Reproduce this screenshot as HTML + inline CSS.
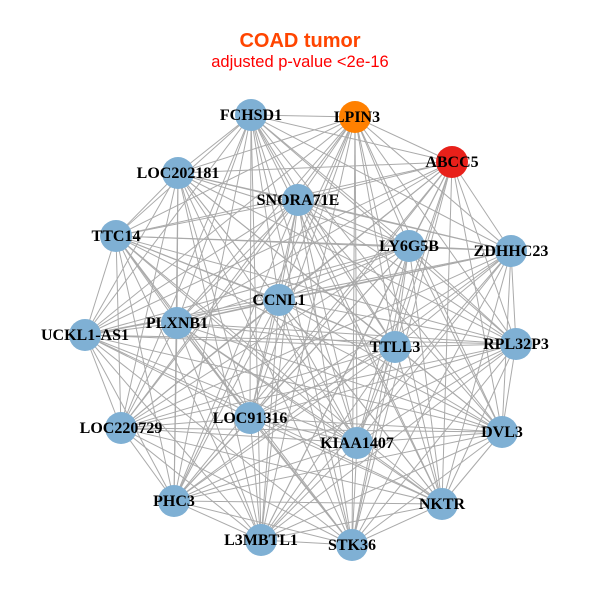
<!DOCTYPE html>
<html><head><meta charset="utf-8"><style>
body{margin:0;background:#fff;}
svg{display:block;}
text.l{font-family:"Liberation Serif",serif;font-weight:bold;font-size:16px;text-anchor:middle;fill:#000;}
</style></head><body>
<svg id="s" width="600" height="600" xmlns="http://www.w3.org/2000/svg">
<rect width="600" height="600" fill="#fff"/>
<g id="e" stroke="#aaaaaa" stroke-width="1"></g>
<g id="n"></g>
<text x="300" y="47" text-anchor="middle" font-family="Liberation Sans,sans-serif" font-weight="bold" font-size="20" fill="#ff4500">COAD tumor</text>
<text x="300" y="67" text-anchor="middle" font-family="Liberation Sans,sans-serif" font-size="16.5" fill="#ff0000">adjusted p-value &lt;2e-16</text>
<g id="t">
<text class="l" x="251" y="120">FCHSD1</text>
<text class="l" x="357" y="122">LPIN3</text>
<text class="l" x="452" y="167">ABCC5</text>
<text class="l" x="178" y="178">LOC202181</text>
<text class="l" x="298" y="205">SNORA71E</text>
<text class="l" x="116" y="241">TTC14</text>
<text class="l" x="409" y="251">LY6G5B</text>
<text class="l" x="511" y="256">ZDHHC23</text>
<text class="l" x="279" y="305">CCNL1</text>
<text class="l" x="177" y="328">PLXNB1</text>
<text class="l" x="85" y="340">UCKL1-AS1</text>
<text class="l" x="395" y="352">TTLL3</text>
<text class="l" x="516" y="349">RPL32P3</text>
<text class="l" x="121" y="433">LOC220729</text>
<text class="l" x="250" y="423">LOC91316</text>
<text class="l" x="357" y="448">KIAA1407</text>
<text class="l" x="502" y="437">DVL3</text>
<text class="l" x="174" y="506">PHC3</text>
<text class="l" x="442" y="509">NKTR</text>
<text class="l" x="261" y="545">L3MBTL1</text>
<text class="l" x="352" y="550">STK36</text>
</g>
</svg>
<script>
var P=[[251,115,'#7fb0d4'],[355,117,'#ff8000'],[452,162,'#e8201a'],[178,173],[298,200],[116,236],[409,246],[511,251],[279,300],[177,323],[85,335],[395,347],[516,344],[121,428],[250,418],[357,443],[502,432],[174,501],[442,504],[261,540],[352,545]];
var ns="http://www.w3.org/2000/svg",e=document.getElementById('e'),n=document.getElementById('n');
for(var i=0;i<P.length;i++)for(var j=i+1;j<P.length;j++){var l=document.createElementNS(ns,'line');l.setAttribute('x1',P[i][0]);l.setAttribute('y1',P[i][1]);l.setAttribute('x2',P[j][0]);l.setAttribute('y2',P[j][1]);e.appendChild(l);}
P.forEach(function(p){var c=document.createElementNS(ns,'circle');c.setAttribute('cx',p[0]);c.setAttribute('cy',p[1]);c.setAttribute('r',16);c.setAttribute('fill',p[2]||'#7fb0d4');n.appendChild(c);});
</script>
</body></html>
